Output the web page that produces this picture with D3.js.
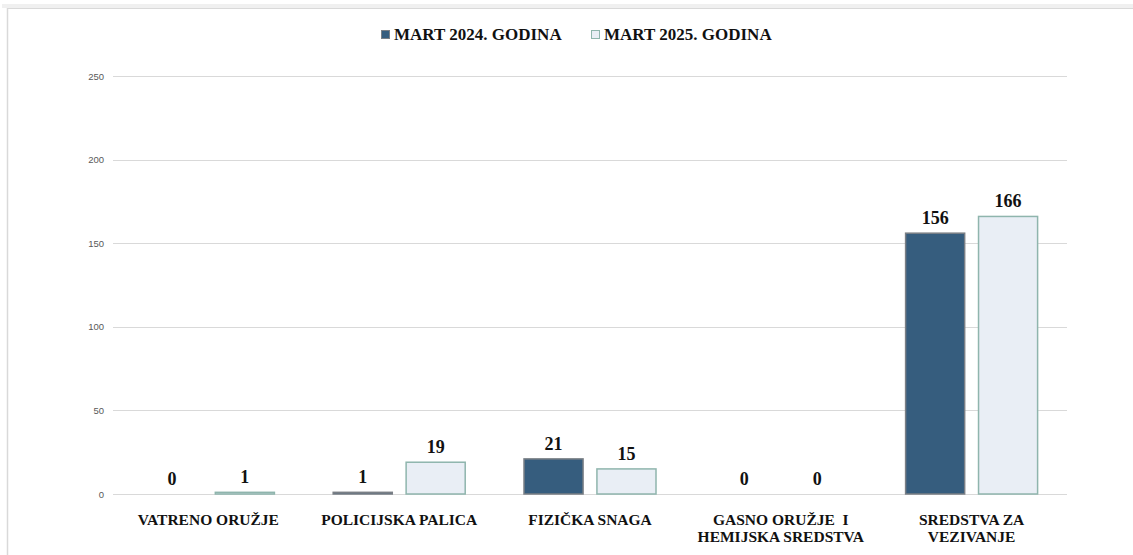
<!DOCTYPE html>
<html>
<head>
<meta charset="utf-8">
<script src="https://cdn.jsdelivr.net/npm/d3@7"></script>
<style>
    body { margin: 0; background: #fff; }
    #chart { width: 1133px; height: 555px; }
</style>
</head>
<body>
<div id="chart"></div>
<script>

// categories + series
let categories = ["VATRENO ORUŽJE", "POLICIJSKA PALICA", "FIZIČKA SNAGA", "GASNO ORUŽJE  I|HEMIJSKA SREDSTVA", "SREDSTVA ZA|VEZIVANJE"];
let seriesNames = ["MART 2024. GODINA", "MART 2025. GODINA"];
let values2024 = [0, 1, 21, 0, 156];
let values2025 = [1, 19, 15, 0, 166];
let yTicks = [0, 50, 100, 150, 200, 250];

let fills = ["#365d7e", "#e9eef5"];
let strokes = ["#7a7f85", "#8fb5ad"];

let width = 1133, height = 555;
let margin = {top: 76, right: 66, bottom: 61, left: 113};

let svg = d3.select("#chart").append("svg")
    .attr("width", width)
    .attr("height", height);

// frame with a little shadow on top
svg.append("rect")
    .attr("x", 2).attr("y", 4)
    .attr("width", width).attr("height", 4)
    .attr("fill", "#f0f0f0");
svg.append("line")
    .attr("x1", 7).attr("x2", width)
    .attr("y1", 8.5).attr("y2", 8.5)
    .attr("stroke", "#d9d9d9");
svg.append("line")
    .attr("x1", 7.5).attr("x2", 7.5)
    .attr("y1", 8).attr("y2", height)
    .attr("stroke", "#d9d9d9")
    .attr("stroke-width", 1.5);

let x = d3.scaleBand()
    .domain(categories)
    .range([margin.left, width - margin.right]);

let xInner = d3.scaleBand()
    .domain(seriesNames)
    .range([0, 132])
    .paddingInner(0.19);

let y = d3.scaleLinear()
    .domain([0, 250])
    .range([height - margin.bottom, margin.top]);

// gridlines
svg.append("g")
    .selectAll("line")
    .data(yTicks)
    .enter()
    .append("line")
    .attr("x1", margin.left)
    .attr("x2", width - margin.right)
    .attr("y1", d => Math.round(y(d)) + 0.5)
    .attr("y2", d => Math.round(y(d)) + 0.5)
    .attr("stroke", "#d9d9d9");

// y axis labels
let yAxis = d3.axisLeft(y).tickValues(yTicks).tickSize(0).tickPadding(9);
let yG = svg.append("g")
    .attr("transform", `translate(${margin.left},0)`)
    .call(yAxis);
yG.select(".domain").remove();
yG.selectAll("text")
    .attr("font-family", "Liberation Sans, Arial, sans-serif")
    .attr("font-size", 9.5)
    .attr("fill", "#595959");

// bars
let data = categories.map((c, i) => ({cat: c, vals: [values2024[i], values2025[i]]}));

let groups = svg.selectAll(".grp")
    .data(data)
    .enter()
    .append("g")
    .attr("class", "grp")
    .attr("transform", d => `translate(${x(d.cat) + (x.bandwidth() - 132) / 2},0)`);

groups.selectAll("rect")
    .data(d => d.vals.map((v, j) => ({v: v, s: seriesNames[j], j: j})))
    .enter()
    .filter(d => d.v > 0)
    .append("rect")
    .attr("x", d => xInner(d.s))
    .attr("y", d => y(d.v))
    .attr("width", xInner.bandwidth())
    .attr("height", d => y(0) - y(d.v))
    .attr("fill", d => fills[d.j])
    .attr("stroke", d => strokes[d.j])
    .attr("stroke-width", 1.5);

groups.selectAll("text")
    .data(d => d.vals.map((v, j) => ({v: v, s: seriesNames[j]})))
    .enter()
    .append("text")
    .attr("x", d => xInner(d.s) + xInner.bandwidth() / 2)
    .attr("y", d => y(d.v) - 9)
    .attr("text-anchor", "middle")
    .attr("font-family", "Liberation Serif, DejaVu Serif, serif")
    .attr("font-weight", "bold")
    .attr("font-size", 18)
    .attr("fill", "#111")
    .text(d => d.v);

// category labels (| = line break)
let xLabels = svg.append("g")
    .selectAll("text")
    .data(categories)
    .enter()
    .append("text")
    .attr("x", d => x(d) + x.bandwidth() / 2)
    .attr("y", 525)
    .attr("text-anchor", "middle")
    .attr("font-family", "Liberation Serif, DejaVu Serif, serif")
    .attr("font-weight", "bold")
    .attr("font-size", 15.5)
    .attr("fill", "#111")
    .style("white-space", "pre");

xLabels.each(function(d) {
    let lines = d.split("|");
    let t = d3.select(this);
    lines.forEach((l, i) => {
        t.append("tspan")
            .attr("x", x(d) + x.bandwidth() / 2)
            .attr("dy", i === 0 ? 0 : 17)
            .text(l);
    });
});

// legend
let legendX = [381, 591];
let legend = svg.append("g");
seriesNames.forEach((s, i) => {
    legend.append("rect")
        .attr("x", legendX[i] + 0.5)
        .attr("y", 30.5)
        .attr("width", 8)
        .attr("height", 8)
        .attr("fill", fills[i])
        .attr("stroke", strokes[i]);
    legend.append("text")
        .attr("x", legendX[i] + 13)
        .attr("y", 40)
        .attr("font-family", "Liberation Serif, DejaVu Serif, serif")
        .attr("font-weight", "bold")
        .attr("font-size", 17)
        .attr("fill", "#111")
        .text(s);
});

</script>
</body>
</html>
